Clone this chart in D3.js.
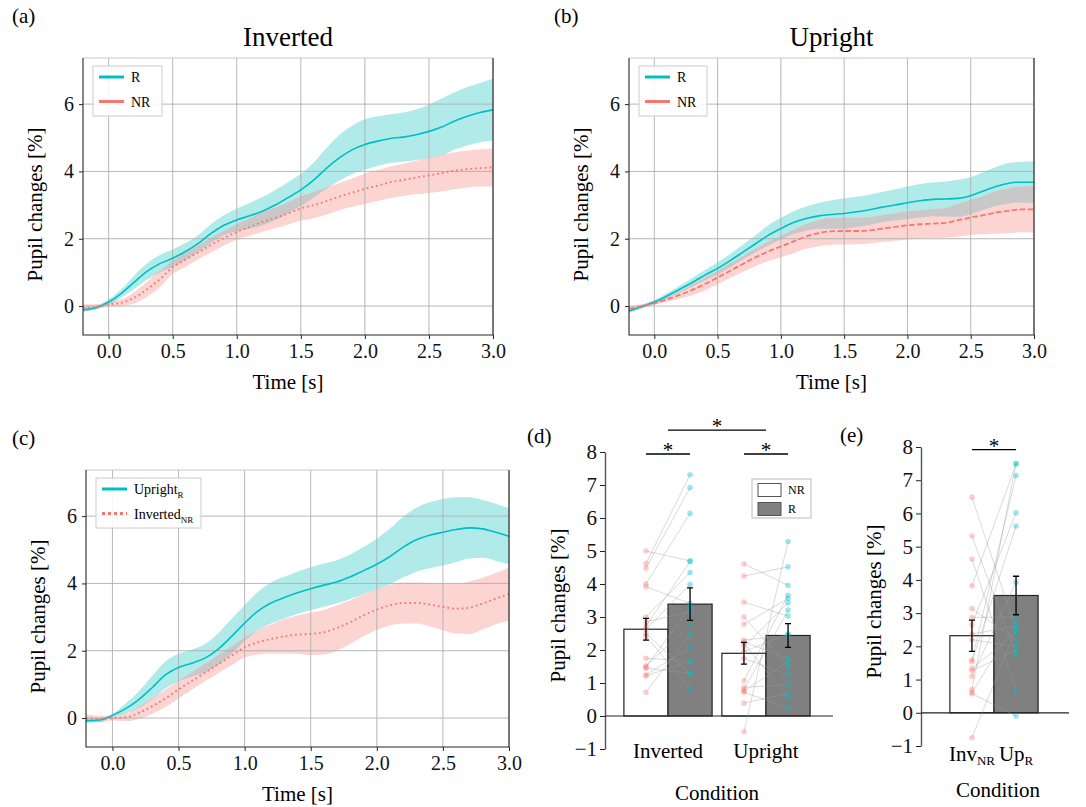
<!DOCTYPE html>
<html>
<head>
<meta charset="utf-8">
<script src="https://cdn.jsdelivr.net/npm/d3@7"></script>
<style>
  body { margin: 0; background: #fff; }
  svg text { font-family: "Liberation Serif", "Times New Roman", Times, serif; }
</style>
</head>
<body>
<svg id="fig" width="1086" height="807"></svg>
<script>
// ---- data ----
const time = [-0.2, -0.1, 0.0, 0.1, 0.2, 0.3, 0.4, 0.5, 0.6, 0.7, 0.8,
              0.9, 1.0, 1.1, 1.2, 1.3, 1.4, 1.5, 1.6, 1.7, 1.8, 1.9,
              2.0, 2.1, 2.2, 2.3, 2.4, 2.5, 2.6, 2.7, 2.8, 2.9, 3.0];

// (a) Inverted
const invR_mean = [-0.11, -0.05, 0.12, 0.38, 0.71, 1.03, 1.26, 1.42, 1.62, 1.86, 2.16,
                   2.40, 2.56, 2.68, 2.82, 3.00, 3.22, 3.45, 3.74, 4.09, 4.40, 4.64,
                   4.80, 4.90, 4.98, 5.02, 5.09, 5.19, 5.32, 5.50, 5.64, 5.75, 5.83];
const invR_err = [0.07, 0.05, 0.08, 0.12, 0.20, 0.24, 0.26, 0.26, 0.25, 0.25, 0.28,
                  0.30, 0.34, 0.38, 0.42, 0.45, 0.46, 0.48, 0.52, 0.60, 0.68, 0.72,
                  0.75, 0.74, 0.72, 0.73, 0.75, 0.80, 0.85, 0.85, 0.87, 0.88, 0.92];
const invNR_mean = [-0.05, -0.02, 0.05, 0.10, 0.25, 0.50, 0.80, 1.15, 1.38, 1.60, 1.82,
                    2.02, 2.20, 2.35, 2.50, 2.62, 2.75, 2.90, 3.00, 3.12, 3.25, 3.37,
                    3.48, 3.58, 3.68, 3.75, 3.82, 3.88, 3.95, 4.02, 4.07, 4.10, 4.12];
const invNR_err = [0.10, 0.07, 0.06, 0.10, 0.17, 0.22, 0.24, 0.20, 0.21, 0.21, 0.22,
                   0.22, 0.23, 0.26, 0.29, 0.31, 0.33, 0.36, 0.39, 0.40, 0.40, 0.42,
                   0.45, 0.46, 0.47, 0.48, 0.50, 0.52, 0.54, 0.55, 0.55, 0.55, 0.57];

// (b) Upright
const upR_mean = [-0.15, -0.02, 0.12, 0.30, 0.50, 0.70, 0.92, 1.12, 1.35, 1.60, 1.85,
                  2.10, 2.30, 2.48, 2.60, 2.68, 2.72, 2.75, 2.80, 2.86, 2.94, 3.00,
                  3.07, 3.13, 3.17, 3.18, 3.20, 3.28, 3.42, 3.55, 3.65, 3.68, 3.68];
const upR_err = [0.05, 0.06, 0.06, 0.08, 0.10, 0.13, 0.15, 0.18, 0.20, 0.22, 0.25,
                 0.30, 0.32, 0.34, 0.36, 0.38, 0.42, 0.45, 0.45, 0.45, 0.45, 0.46,
                 0.48, 0.50, 0.50, 0.52, 0.55, 0.55, 0.56, 0.58, 0.60, 0.60, 0.62];
const upNR_mean = [-0.08, 0.00, 0.08, 0.20, 0.33, 0.48, 0.65, 0.85, 1.05, 1.25, 1.45,
                   1.62, 1.77, 1.92, 2.07, 2.17, 2.22, 2.23, 2.23, 2.25, 2.30, 2.35,
                   2.40, 2.43, 2.45, 2.47, 2.55, 2.63, 2.70, 2.78, 2.83, 2.87, 2.87];
const upNR_err = [0.06, 0.05, 0.04, 0.07, 0.11, 0.16, 0.19, 0.20, 0.22, 0.24, 0.26,
                  0.29, 0.32, 0.35, 0.37, 0.39, 0.40, 0.40, 0.39, 0.39, 0.40, 0.41,
                  0.42, 0.42, 0.43, 0.44, 0.48, 0.52, 0.57, 0.63, 0.67, 0.68, 0.69];

// (c) Upright_R vs Inverted_NR
const cUpR_mean = [-0.08, -0.06, 0.08, 0.28, 0.55, 0.90, 1.28, 1.50, 1.63, 1.78, 2.05,
                   2.42, 2.82, 3.18, 3.42, 3.58, 3.72, 3.84, 3.95, 4.05, 4.20, 4.38,
                   4.57, 4.80, 5.08, 5.30, 5.43, 5.52, 5.60, 5.65, 5.62, 5.52, 5.40];
const cUpR_err = [0.07, 0.06, 0.04, 0.15, 0.25, 0.35, 0.40, 0.41, 0.40, 0.42, 0.47,
                  0.52, 0.53, 0.57, 0.61, 0.62, 0.63, 0.64, 0.64, 0.64, 0.66, 0.70,
                  0.76, 0.83, 0.90, 0.95, 0.98, 0.99, 0.96, 0.91, 0.86, 0.85, 0.83];
const cInvNR_mean = [0.00, -0.03, 0.00, 0.02, 0.15, 0.35, 0.58, 0.85, 1.10, 1.35, 1.60,
                     1.85, 2.10, 2.25, 2.35, 2.43, 2.48, 2.50, 2.55, 2.68, 2.85, 3.05,
                     3.22, 3.35, 3.42, 3.42, 3.37, 3.30, 3.25, 3.28, 3.40, 3.55, 3.68];
const cInvNR_err = [0.11, 0.10, 0.07, 0.11, 0.18, 0.22, 0.26, 0.26, 0.26, 0.26, 0.27,
                    0.28, 0.30, 0.36, 0.43, 0.51, 0.57, 0.63, 0.66, 0.67, 0.65, 0.62,
                    0.60, 0.60, 0.61, 0.61, 0.64, 0.69, 0.74, 0.78, 0.77, 0.76, 0.79];

const timeTicks = [0.0, 0.5, 1.0, 1.5, 2.0, 2.5, 3.0];
const pupilTicks = [0, 2, 4, 6];

// (d) bars per condition
const dConditions = ["Inverted", "Upright"];
const dMeanNR = [2.63, 1.90];
const dSemNR = [0.33, 0.33];
const dMeanR = [3.39, 2.44];
const dSemR = [0.49, 0.36];
// subjects, NR paired with R (same index)
const dInvNR = [5.00, 4.62, 4.48, 4.00, 3.92, 3.00, 2.85, 2.72, 2.62, 2.50, 2.42, 1.75, 1.52, 1.48, 1.45, 1.25, 1.22, 0.72];
const dInvR  = [4.70, 7.31, 6.92, 6.14, 3.41, 4.35, 3.16, 4.68, 3.99, 1.27, 0.82, 1.66, 2.75, 3.30, 1.30, 2.07, 1.65, 2.47];
const dUpNR  = [4.61, 4.24, 3.45, 3.00, 2.78, 2.25, 2.20, 2.10, 1.95, 1.75, 1.07, 0.87, 0.80, 0.75, 0.72, 0.39, -0.48, 2.30];
const dUpR   = [3.96, 4.52, 3.03, 1.50, 3.56, 1.73, 0.56, 3.43, 2.48, 1.25, 3.66, 0.94, 3.21, 1.65, 0.24, 0.69, 5.29, 2.45];

// (e) Inv_NR vs Up_R
const eMeanNR = 2.32, eSemNR = 0.47;
const eMeanR = 3.53, eSemR = 0.58;
const eInvNR = [6.49, 5.32, 4.63, 3.82, 3.14, 2.87, 2.64, 2.37, 2.20, 1.59, 1.54, 1.33, 1.27, 1.10, 0.70, 0.62, 0.58, -0.75];
const eUpR   = [2.49, 1.76, 0.66, 7.48, 2.19, 2.89, 6.02, 2.61, 1.99, 7.14, 5.62, 2.41, 1.89, 3.93, 7.51, 2.71, -0.10, 2.50];
const barTicks = [-1, 0, 1, 2, 3, 4, 5, 6, 7, 8];

// ---- styles ----
const CYAN = "#00bfc4", RED = "#f8766d";
const CYAN_BAND = "#b0ebea", RED_BAND = "#fcd4d2", OVERLAP = "#c8c8c8";

const svg = d3.select("#fig");

function panelLabel(txt, x, y) {
  svg.append("text").attr("x", x).attr("y", y).attr("font-size", 21).text(txt);
}

function timePanel(o) {
  const x = d3.scaleLinear().domain([-0.2, 3.0]).range([o.x0, o.x1]);
  const y = d3.scaleLinear().domain([-0.86, 7.37]).range([o.y1, o.y0]);
  const g = svg.append("g");

  const rows = time.map((t, i) => ({ t: t, a: o.a[i], ae: o.aErr[i], b: o.b[i], be: o.bErr[i] }));
  const band = (lo, hi) => d3.area().curve(d3.curveMonotoneX)
      .x(d => x(d.t)).y0(d => y(lo(d))).y1(d => y(hi(d)));

  g.append("path").datum(rows).attr("fill", CYAN_BAND)
    .attr("d", band(d => d.a - d.ae, d => d.a + d.ae));
  g.append("path").datum(rows).attr("fill", RED_BAND)
    .attr("d", band(d => d.b - d.be, d => d.b + d.be));
  // where both bands overlap they show grey
  const ovLo = d => Math.max(d.a - d.ae, d.b - d.be);
  const ovHi = d => Math.max(ovLo(d), Math.min(d.a + d.ae, d.b + d.be));
  g.append("path").datum(rows).attr("fill", OVERLAP).attr("d", band(ovLo, ovHi));

  // grid
  g.append("g").selectAll("line").data(timeTicks).join("line")
    .attr("x1", d => x(d)).attr("x2", d => x(d)).attr("y1", o.y0).attr("y2", o.y1)
    .attr("stroke", "#b0b0b0").attr("stroke-width", 0.9);
  g.append("g").selectAll("line").data(pupilTicks).join("line")
    .attr("y1", d => y(d)).attr("y2", d => y(d)).attr("x1", o.x0).attr("x2", o.x1)
    .attr("stroke", "#b0b0b0").attr("stroke-width", 0.9);

  const line = key => d3.line().curve(d3.curveMonotoneX).x(d => x(d.t)).y(d => y(d[key]));
  g.append("path").datum(rows).attr("fill", "none").attr("stroke", CYAN)
    .attr("stroke-width", 1.6).attr("d", line("a"));
  g.append("path").datum(rows).attr("fill", "none").attr("stroke", RED)
    .attr("stroke-width", 1.8).attr("stroke-dasharray", o.dash).attr("d", line("b"));

  // frame
  g.append("line").attr("x1", o.x0).attr("x2", o.x1).attr("y1", o.y0).attr("y2", o.y0)
    .attr("stroke", "#c8c8c8");
  g.append("path").attr("fill", "none").attr("stroke", "#262626").attr("stroke-width", 1.1)
    .attr("d", `M${o.x0},${o.y0}V${o.y1}H${o.x1}V${o.y0}`);

  // axes
  const ax = g.append("g").attr("transform", `translate(0,${o.y1})`)
    .call(d3.axisBottom(x).tickValues(timeTicks).tickFormat(d3.format(".1f"))
      .tickSize(4).tickPadding(5));
  const ay = g.append("g").attr("transform", `translate(${o.x0},0)`)
    .call(d3.axisLeft(y).tickValues(pupilTicks).tickFormat(d3.format("d"))
      .tickSize(4).tickPadding(5));
  [ax, ay].forEach(a => {
    a.select(".domain").remove();
    a.selectAll("text").attr("font-size", 20).attr("fill", "#111");
    a.selectAll("line").attr("stroke", "#262626");
  });

  const cx = (o.x0 + o.x1) / 2, cy = (o.y0 + o.y1) / 2;
  g.append("text").attr("x", cx).attr("y", o.y1 + 54).attr("text-anchor", "middle")
    .attr("font-size", 21).text("Time [s]");
  g.append("text").attr("transform", `translate(${o.x0 - 41},${cy + 8}) rotate(-90)`)
    .attr("text-anchor", "middle").attr("font-size", 21).text("Pupil changes [%]");
  if (o.title) {
    g.append("text").attr("x", cx).attr("y", 46).attr("text-anchor", "middle")
      .attr("font-size", 27).text(o.title);
  }

  // legend
  const lg = g.append("g").attr("transform", `translate(${o.x0 + 10},${o.y0 + 8})`);
  lg.append("rect").attr("width", o.legW).attr("height", 50).attr("fill", "#fff")
    .attr("fill-opacity", 0.85).attr("stroke", "#cccccc");
  o.legend.forEach((e, i) => {
    const yy = 11 + i * 24.5;
    lg.append("line").attr("x1", 6).attr("x2", 31).attr("y1", yy).attr("y2", yy)
      .attr("stroke", e.color).attr("stroke-width", 3).attr("stroke-dasharray", e.dash);
    const t = lg.append("text").attr("x", 38).attr("y", yy + 5).attr("font-size", 14);
    t.append("tspan").text(e.label);
    if (e.sub) t.append("tspan").attr("dy", 4).attr("font-size", 9).text(e.sub);
  });
}

timePanel({ x0: 83, x1: 493, y0: 58, y1: 335, title: "Inverted",
  a: invR_mean, aErr: invR_err, b: invNR_mean, bErr: invNR_err, dash: "1.8,3", legW: 69,
  legend: [{ label: "R", color: CYAN }, { label: "NR", color: RED }] });
timePanel({ x0: 629, x1: 1034, y0: 58, y1: 335, title: "Upright",
  a: upR_mean, aErr: upR_err, b: upNR_mean, bErr: upNR_err, dash: "5.5,2.5", legW: 68,
  legend: [{ label: "R", color: CYAN }, { label: "NR", color: RED }] });
timePanel({ x0: 86, x1: 509, y0: 470, y1: 747, title: null,
  a: cUpR_mean, aErr: cUpR_err, b: cInvNR_mean, bErr: cInvNR_err, dash: "1.8,3", legW: 105,
  legend: [{ label: "Upright", sub: "R", color: CYAN },
           { label: "Inverted", sub: "NR", color: RED, dash: "3,3" }] });

panelLabel("(a)", 12, 23);
panelLabel("(b)", 554, 23);
panelLabel("(c)", 12, 445);
panelLabel("(d)", 527, 443);
panelLabel("(e)", 840, 442);

// ---- bar panels ----
function barPanel(o) {
  const y = d3.scaleLinear().domain([-1, 8]).range([o.yb, o.yt]);
  const x = d3.scaleLinear().domain([0, 1]).range([o.c0, o.c0 + 98]);
  const half = 0.225;
  const g = svg.append("g");

  // axes
  const ay = g.append("g").attr("transform", `translate(${o.xs},0)`)
    .call(d3.axisLeft(y).tickValues(barTicks).tickFormat(d3.format("d"))
      .tickSize(5).tickPadding(3).tickSizeOuter(0));
  ay.select(".domain").attr("stroke", "#555").attr("stroke-width", 1.4);
  ay.selectAll("text").attr("font-size", 21).attr("fill", "#111");
  ay.selectAll("line").attr("stroke", "#222");

  // bars
  o.groups.forEach(gr => {
    g.append("rect").attr("x", x(gr.pos - 2 * half)).attr("width", x(2 * half) - x(0))
      .attr("y", y(gr.nr)).attr("height", y(0) - y(gr.nr))
      .attr("fill", "#fff").attr("stroke", "#222").attr("stroke-width", 1.2);
    g.append("rect").attr("x", x(gr.pos)).attr("width", x(2 * half) - x(0))
      .attr("y", y(gr.r)).attr("height", y(0) - y(gr.r))
      .attr("fill", "#808080").attr("stroke", "#222").attr("stroke-width", 1.2);
  });
  g.append("line").attr("x1", o.xs).attr("x2", o.xe).attr("y1", y(0)).attr("y2", y(0))
    .attr("stroke", "#222").attr("stroke-width", 1.2);

  // subjects
  o.groups.forEach(gr => {
    const xa = x(gr.pos - half), xb = x(gr.pos + half);
    g.append("g").selectAll("line").data(gr.pNR).join("line")
      .attr("x1", xa).attr("x2", xb).attr("y1", d => y(d)).attr("y2", (d, i) => y(gr.pR[i]))
      .attr("stroke", "#9a9a9a").attr("stroke-opacity", 0.38).attr("stroke-width", 1);
    g.append("g").selectAll("circle").data(gr.pNR).join("circle")
      .attr("cx", xa).attr("cy", d => y(d)).attr("r", 2.8)
      .attr("fill", RED).attr("fill-opacity", 0.35);
    g.append("g").selectAll("circle").data(gr.pR).join("circle")
      .attr("cx", xb).attr("cy", d => y(d)).attr("r", 2.8)
      .attr("fill", CYAN).attr("fill-opacity", 0.38);
  });

  // error bars
  o.groups.forEach(gr => {
    [[gr.pos - half, gr.nr, gr.nrSem], [gr.pos + half, gr.r, gr.rSem]].forEach(([p, m, s]) => {
      const xc = x(p);
      g.append("path").attr("fill", "none").attr("stroke", "#000").attr("stroke-width", 1.3)
        .attr("d", `M${xc},${y(m - s)}V${y(m + s)}M${xc - 3},${y(m - s)}H${xc + 3}M${xc - 3},${y(m + s)}H${xc + 3}`);
    });
  });

  // significance
  o.sig.forEach(s => {
    g.append("line").attr("x1", x(s[0])).attr("x2", x(s[1])).attr("y1", y(s[2])).attr("y2", y(s[2]))
      .attr("stroke", "#000").attr("stroke-width", 1.3);
    g.append("text").attr("x", (x(s[0]) + x(s[1])) / 2).attr("y", y(s[2]) + 3)
      .attr("text-anchor", "middle").attr("font-size", 21).text("*");
  });

  // category labels
  o.labels.forEach(l => {
    const t = g.append("text").attr("x", x(l.pos)).attr("y", o.labelY)
      .attr("text-anchor", "middle").attr("font-size", 21);
    t.append("tspan").text(l.text);
    if (l.sub) t.append("tspan").attr("dy", 4).attr("font-size", 13).text(l.sub);
  });
  g.append("text").attr("x", o.condX).attr("y", o.condY).attr("text-anchor", "middle")
    .attr("font-size", 21).text("Condition");
  g.append("text").attr("transform", `translate(${o.xs - 40},${(o.yt + o.yb) / 2 + 5}) rotate(-90)`)
    .attr("text-anchor", "middle").attr("font-size", 21).text("Pupil changes [%]");
  return { g, x, y };
}

const pd = barPanel({
  xs: 605, xe: 833, yt: 452, yb: 749, c0: 668,
  groups: dConditions.map((c, i) => ({
    pos: i, nr: dMeanNR[i], nrSem: dSemNR[i], r: dMeanR[i], rSem: dSemR[i],
    pNR: i === 0 ? dInvNR : dUpNR, pR: i === 0 ? dInvR : dUpR
  })),
  sig: [[-0.225, 0.225, 7.94], [0.775, 1.225, 7.94], [0, 1.0, 8.66]],
  labels: dConditions.map((c, i) => ({ pos: i, text: c })),
  labelY: 758, condX: 717, condY: 800
});

// legend of (d)
const dl = pd.g.append("g").attr("transform", "translate(752,479)");
dl.append("rect").attr("width", 59).attr("height", 39).attr("fill", "#fff").attr("stroke", "#bbb");
[["NR", "#fff"], ["R", "#808080"]].forEach((e, i) => {
  dl.append("rect").attr("x", 6).attr("y", 4.5 + i * 19).attr("width", 23).attr("height", 13)
    .attr("fill", e[1]).attr("stroke", "#555").attr("stroke-width", 1);
  dl.append("text").attr("x", 36).attr("y", 15 + i * 19).attr("font-size", 12).text(e[0]);
});

barPanel({
  xs: 921, xe: 1069, yt: 447, yb: 746, c0: 994,
  groups: [{ pos: 0, nr: eMeanNR, nrSem: eSemNR, r: eMeanR, rSem: eSemR, pNR: eInvNR, pR: eUpR }],
  sig: [[-0.225, 0.225, 7.92]],
  labels: [{ pos: -0.225, text: "Inv", sub: "NR" }, { pos: 0.225, text: "Up", sub: "R" }],
  labelY: 761, condX: 998, condY: 797
});
</script>
</body>
</html>
